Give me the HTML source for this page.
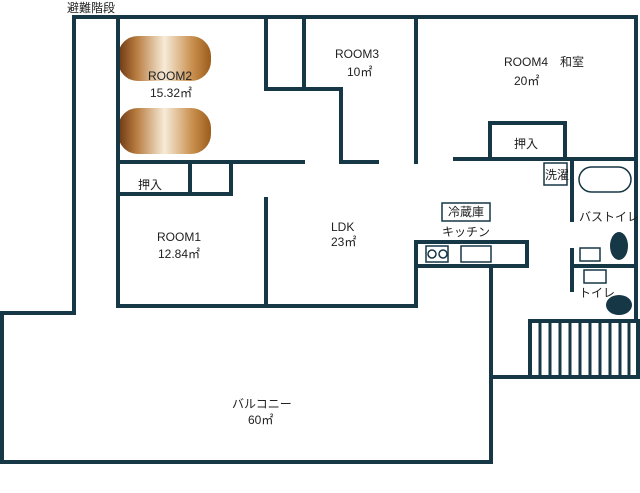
<!DOCTYPE html>
<html><head><meta charset="utf-8"><style>
html,body{margin:0;padding:0;background:#fff;}
svg{display:block}
text{font-family:"Liberation Sans","Noto Sans CJK JP",sans-serif;fill:#222;font-size:12px}
</style></head><body>
<svg width="640" height="493" viewBox="0 0 640 493" xmlns="http://www.w3.org/2000/svg">
<defs>
<linearGradient id="bed" x1="0" x2="1" y1="0" y2="0">
<stop offset="0" stop-color="#6b3612"/>
<stop offset="0.2" stop-color="#b97d40"/>
<stop offset="0.5" stop-color="#f7ebd8"/>
<stop offset="0.8" stop-color="#c98f4e"/>
<stop offset="1" stop-color="#9c5c1a"/>
</linearGradient>
</defs>
<rect x="118" y="36" width="93" height="45" rx="20" fill="url(#bed)"/>
<rect x="118" y="108" width="93" height="46" rx="20" fill="url(#bed)"/>
<g stroke="#163745" stroke-width="4" fill="none" stroke-linecap="square">
<polyline points="0,313 74,313 74,17 636,17 636,320"/>
<line x1="118" y1="17" x2="118" y2="306"/>
<polyline points="2,313 2,462 491,462 491,377 640,377"/>
<polyline points="118,306 416,306 416,242"/>
<line x1="266" y1="199" x2="266" y2="306"/>
<line x1="118" y1="162" x2="303" y2="162"/>
<polyline points="118,194 231,194 231,162"/>
<line x1="190" y1="162" x2="190" y2="194"/>
<polyline points="266,17 266,89 341,89 341,162 377,162"/>
<line x1="304" y1="17" x2="304" y2="89"/>
<line x1="416" y1="17" x2="416" y2="162"/>
<line x1="455" y1="159" x2="636" y2="159"/>
<polyline points="490,159 490,123 565,123 565,159"/>
<line x1="572" y1="159" x2="572" y2="220"/>
<line x1="572" y1="250" x2="572" y2="290"/>
<line x1="572" y1="266" x2="636" y2="266"/>
<rect x="416" y="242" width="111" height="24"/>
<line x1="491" y1="266" x2="491" y2="377"/>
<rect x="530" y="321" width="108" height="56"/>
</g>
<g stroke="#163745" stroke-width="3">
<line x1="540" y1="321" x2="540" y2="377"/><line x1="550" y1="321" x2="550" y2="377"/>
<line x1="560" y1="321" x2="560" y2="377"/><line x1="570" y1="321" x2="570" y2="377"/>
<line x1="580" y1="321" x2="580" y2="377"/><line x1="590" y1="321" x2="590" y2="377"/>
<line x1="600" y1="321" x2="600" y2="377"/><line x1="610" y1="321" x2="610" y2="377"/>
<line x1="620" y1="321" x2="620" y2="377"/><line x1="629" y1="321" x2="629" y2="377"/>
</g>
<g stroke="#163745" stroke-width="1.5" fill="#fff">
<rect x="544" y="163" width="23" height="22"/>
<rect x="442" y="203" width="48" height="18"/>
<rect x="426" y="246" width="22" height="16"/>
<circle cx="432" cy="254" r="4"/><circle cx="443" cy="254" r="4"/>
<rect x="461" y="246" width="30" height="16"/>
<rect x="579" y="167" width="52" height="25" rx="12.5"/>
<rect x="580" y="248" width="20" height="13"/>
<rect x="584" y="270" width="22" height="13"/>
</g>
<ellipse cx="619" cy="246" rx="9" ry="14" fill="#163745"/>
<ellipse cx="619" cy="305" rx="13" ry="10" fill="#163745"/>
<text x="67" y="12">避難階段</text>
<text x="148" y="80">ROOM2</text><text x="150" y="97">15.32㎡</text>
<text x="138" y="189">押入</text>
<text x="157" y="241">ROOM1</text><text x="158" y="258">12.84㎡</text>
<text x="335" y="58">ROOM3</text><text x="347" y="76">10㎡</text>
<text x="504" y="66">ROOM4　和室</text><text x="514" y="85">20㎡</text>
<text x="514" y="148">押入</text>
<text x="545" y="179" font-size="9.5">洗濯</text>
<text x="448" y="216" font-size="9.5">冷蔵庫</text>
<text x="442" y="236">キッチン</text>
<text x="331" y="231">LDK</text><text x="331" y="246">23㎡</text>
<text x="579" y="221" font-size="10">バストイレ</text>
<text x="579" y="297">トイレ</text>
<text x="232" y="408">バルコニー</text><text x="248" y="424">60㎡</text>
</svg>
</body></html>
